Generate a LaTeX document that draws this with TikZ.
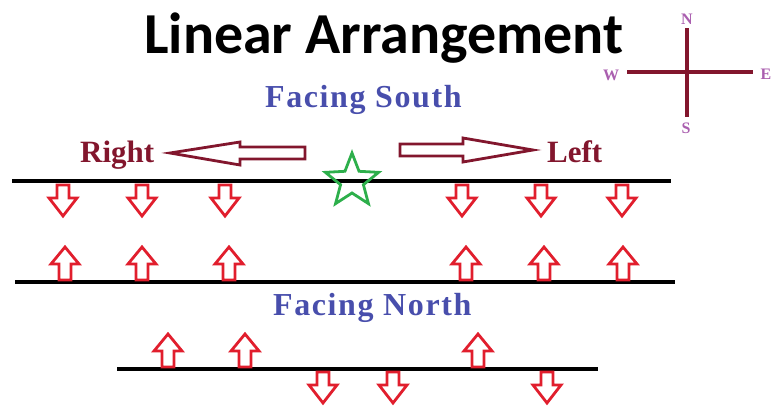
\documentclass[tikz,border=0pt]{standalone}
\usepackage{fontspec}
\setmainfont{Liberation Serif}
\newfontfamily\titlefont{Carlito}
\definecolor{arrred}{RGB}{225,30,45}
\definecolor{darkred}{RGB}{130,22,45}
\definecolor{facingblue}{RGB}{72,78,172}
\definecolor{compasspurple}{RGB}{170,95,175}
\definecolor{stargreen}{RGB}{45,175,75}
\tikzset{
  txt/.style={inner sep=0pt, anchor=base west},
  clabel/.style={text=compasspurple, inner sep=0pt, font=\bfseries\fontsize{16}{17}\selectfont},
  hollow/.style={draw=arrred, line width=2.8pt, fill=white, line join=miter},
  bighollow/.style={draw=darkred, line width=2.8pt, fill=white, line join=miter},
  baseline/.style={draw=black, line width=3.4pt},
  compassline/.style={draw=darkred, line width=3.6pt},
  darr/.pic={\path[hollow] (-6,0) -- (6,0) -- (6,13) -- (14,13) -- (0,31) -- (-14,13) -- (-6,13) -- cycle;},
  uarr/.pic={\path[hollow] (-6,0) -- (6,0) -- (6,-16) -- (14,-16) -- (0,-33) -- (-14,-16) -- (-6,-16) -- cycle;}
}
\begin{document}
\begin{tikzpicture}[x=1pt,y=-1pt]
\useasboundingbox (0,0) rectangle (774,407);
% title
\node[txt, text depth=0pt] (title) at (144,53) {\titlefont\bfseries\fontsize{58}{60}\selectfont Linear Arrangement};
\node[txt, text=facingblue] (south) at (265,107) {\bfseries\fontsize{32}{34}\selectfont\addfontfeatures{LetterSpace=5} Facing South};
\node[txt, text=facingblue] (north) at (273,315) {\bfseries\fontsize{32}{34}\selectfont\addfontfeatures{LetterSpace=5} Facing North};
\node[txt, text=darkred] (right) at (80,162) {\bfseries\fontsize{31}{32}\selectfont Right};
\node[txt, text=darkred] (left) at (547,162) {\bfseries\fontsize{31}{32}\selectfont Left};
% compass
\coordinate (cn) at (687,28);
\coordinate (cs) at (687,117);
\coordinate (cw) at (627,72);
\coordinate (ce) at (753,72);
\draw[compassline] (cn) -- (cs);
\draw[compassline] (cw) -- (ce);
\node[clabel] (N) at (687,19) {N};
\node[clabel] (S) at (686,128) {S};
\node[clabel] (W) at (611,75) {W};
\node[clabel] (E) at (766,74) {E};
% big direction arrows
\path[bighollow] (305,147) -- (240,147) -- (240,142) -- (170,153) -- (240,165) -- (240,159) -- (305,159) -- cycle;
\path[bighollow] (400,144) -- (463,144) -- (463,138) -- (533,150) -- (463,162) -- (463,156) -- (400,156) -- cycle;
% lines
\coordinate (l1a) at (12,181); \coordinate (l1b) at (671,181);
\coordinate (l2a) at (15,282); \coordinate (l2b) at (675,282);
\coordinate (l3a) at (117,369); \coordinate (l3b) at (598,369);
\draw[baseline] (l1a) -- (l1b);
\draw[baseline] (l2a) -- (l2b);
\draw[baseline] (l3a) -- (l3b);
% star
\path[draw=stargreen, line width=2.8pt, line join=miter, shift={(352,181)}]
  (-90:28) -- (-54:12) -- (-18:28) -- (18:12) -- (54:28) -- (90:12) -- (126:28) -- (162:12) -- (198:28) -- (234:12) -- cycle;
% row 1 down
\foreach \x in {63,142,225,462,541,622} \pic at (\x,185) {darr};
% row 2 up
\foreach \x in {65,142,229,466,544,623} \pic at (\x,280) {uarr};
% row 3
\foreach \x in {168,245,478} \pic at (\x,367) {uarr};
\foreach \x in {323,393,547} \pic at (\x,372) {darr};
\end{tikzpicture}
\end{document}
